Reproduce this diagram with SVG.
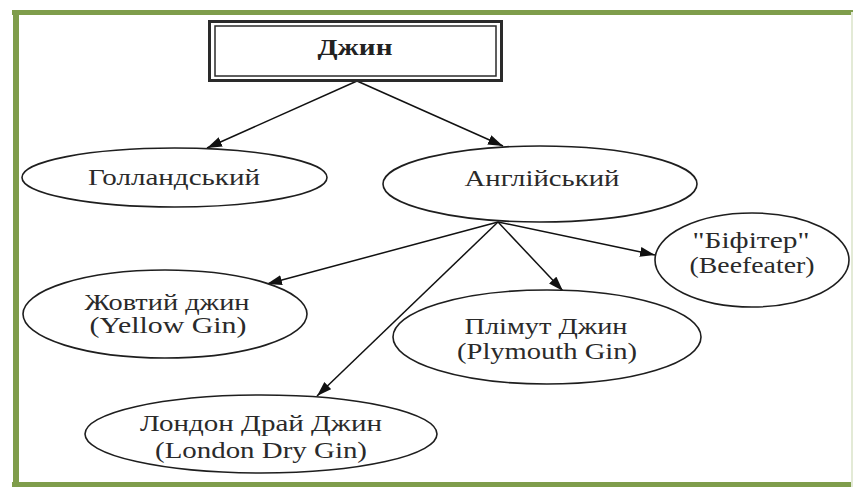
<svg xmlns="http://www.w3.org/2000/svg" width="853" height="489" viewBox="0 0 853 489">
<style>
.frame{fill:none;stroke:#7f9d4b}
.node ellipse{fill:#fff;stroke:#1e1e1e;stroke-width:1.6}
.lbl{font-family:"Liberation Serif","Times New Roman",serif;font-size:23px;fill:#2a2a2a;text-anchor:middle}
.title{font-family:"Liberation Serif","Times New Roman",serif;font-size:24px;font-weight:bold;fill:#222;text-anchor:middle}
.conn line{stroke:#111;stroke-width:1.5;marker-end:url(#arr)}
</style>
<defs>
<marker id="arr" markerUnits="userSpaceOnUse" markerWidth="16" markerHeight="11" refX="15" refY="5" orient="auto">
<path d="M0,0 L15,5 L0,10 z" fill="#111"/>
</marker>
</defs>
<rect width="853" height="489" fill="#fff"/>
<g id="frame">
<line class="frame" x1="12" y1="12.5" x2="853" y2="12.5" stroke-width="5"/>
<line class="frame" x1="16" y1="10" x2="16" y2="487" stroke-width="6"/>
<line class="frame" x1="12" y1="484.5" x2="853" y2="484.5" stroke-width="5"/>
<line x1="852" y1="12" x2="852" y2="487" stroke="#e3ead6" stroke-width="2"/>
</g>
<g id="conn" class="conn">
<line x1="357" y1="81" x2="207" y2="148"/>
<line x1="357" y1="81" x2="503" y2="146"/>
<line x1="498" y1="222" x2="267" y2="284"/>
<line x1="498" y1="222" x2="317" y2="396"/>
<line x1="498" y1="222" x2="563" y2="291"/>
<line x1="498" y1="222" x2="655" y2="255"/>
</g>
<g id="n-dzhyn" class="node">
<rect x="209.5" y="21.5" width="292" height="59" fill="#fff" stroke="#2a2a2a" stroke-width="3"/>
<rect x="215" y="26" width="281" height="50" fill="none" stroke="#2a2a2a" stroke-width="1.5"/>
<text class="title" x="355" y="55" textLength="75" lengthAdjust="spacingAndGlyphs">Джин</text>
</g>
<g id="n-holl" class="node">
<ellipse cx="174.5" cy="177.5" rx="152.5" ry="29.5"/>
<text class="lbl" x="174" y="185" textLength="172" lengthAdjust="spacingAndGlyphs">Голландський</text>
</g>
<g id="n-angl" class="node">
<ellipse cx="540" cy="184" rx="157" ry="38"/>
<text class="lbl" x="542" y="186" textLength="155" lengthAdjust="spacingAndGlyphs">Англійський</text>
</g>
<g id="n-beef" class="node">
<ellipse cx="752" cy="260" rx="97" ry="47"/>
<text class="lbl" x="751" y="248" textLength="117" lengthAdjust="spacingAndGlyphs">"Біфітер"</text>
<text class="lbl" x="752" y="273" textLength="125" lengthAdjust="spacingAndGlyphs">(Beefeater)</text>
</g>
<g id="n-yellow" class="node">
<ellipse cx="165" cy="314" rx="142" ry="44"/>
<text class="lbl" x="167" y="310" textLength="165" lengthAdjust="spacingAndGlyphs">Жовтий джин</text>
<text class="lbl" x="168" y="333" textLength="157" lengthAdjust="spacingAndGlyphs">(Yellow Gin)</text>
</g>
<g id="n-plym" class="node">
<ellipse cx="547" cy="337" rx="154" ry="47"/>
<text class="lbl" x="546" y="334" textLength="163" lengthAdjust="spacingAndGlyphs">Плімут Джин</text>
<text class="lbl" x="547" y="359" textLength="180" lengthAdjust="spacingAndGlyphs">(Plymouth Gin)</text>
</g>
<g id="n-london" class="node">
<ellipse cx="261" cy="434" rx="176" ry="39"/>
<text class="lbl" x="261" y="431" textLength="242" lengthAdjust="spacingAndGlyphs">Лондон Драй Джин</text>
<text class="lbl" x="261" y="458" textLength="212" lengthAdjust="spacingAndGlyphs">(London Dry Gin)</text>
</g>
</svg>
